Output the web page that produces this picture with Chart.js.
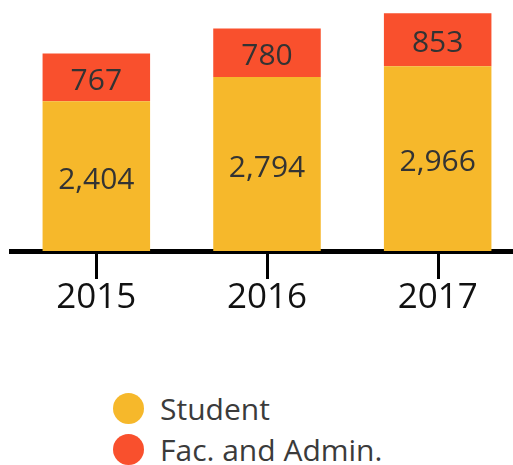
<!DOCTYPE html>
<html>
<head>
<meta charset="utf-8">
<script src="https://cdn.jsdelivr.net/npm/chart.js@4/dist/chart.umd.min.js"></script>
<style>
  html, body { margin: 0; padding: 0; background: #fff; overflow: hidden; }
  body { width: 513px; height: 465px; position: relative; font-family: "Open Sans", sans-serif; }
  #chart-wrap { position: absolute; left: 0; top: 0; width: 523px; height: 338px; }
  #legend { position: absolute; left: 113px; top: 388px; }
  .item { display: flex; align-items: center; height: 41px; font-size: 30px; color: #3b3b3b; }
  .dot { width: 31px; height: 31px; border-radius: 50%; margin-right: 16px; }
</style>
</head>
<body>
<div id="chart-wrap"><canvas id="chart"></canvas></div>
<div id="legend"></div>
<script>
// dados
const years = ['2015', '2016', '2017'];
const students = [2404, 2794, 2966];
const facAdmin = [767, 780, 853];
const seriesNames = ['Student', 'Fac. and Admin.'];
const seriesColors = ['#F6B82B', '#F9502D'];

const FONT = '"Open Sans", sans-serif';

// rótulos dentro das barras
const barLabels = {
  id: 'barLabels',
  afterDatasetsDraw(chart) {
    const ctx = chart.ctx;
    ctx.save();
    ctx.font = '30px ' + FONT;
    ctx.fillStyle = '#333';
    ctx.textAlign = 'center';
    ctx.textBaseline = 'middle';
    chart.data.datasets.forEach((ds, i) => {
      chart.getDatasetMeta(i).data.forEach((bar, j) => {
        const mid = (bar.y + bar.base) / 2;
        ctx.fillText(ds.data[j].toLocaleString('en-US'), bar.x, mid + 4);
      });
    });
    ctx.restore();
  }
};

// marcas do eixo x nos centros das categorias
const axisTicks = {
  id: 'axisTicks',
  afterDraw(chart) {
    const ctx = chart.ctx;
    const x = chart.scales.x;
    const y0 = chart.chartArea.bottom;
    ctx.save();
    ctx.strokeStyle = '#000';
    ctx.lineWidth = 3;
    years.forEach((_, i) => {
      const px = Math.round(x.getPixelForValue(i)) + 0.5;
      ctx.beginPath();
      ctx.moveTo(px, y0);
      ctx.lineTo(px, y0 + 28);
      ctx.stroke();
    });
    ctx.restore();
  }
};

const chart = new Chart(document.getElementById('chart'), {
  type: 'bar',
  data: {
    labels: years,
    datasets: [
      { label: seriesNames[0], data: students, backgroundColor: seriesColors[0] },
      { label: seriesNames[1], data: facAdmin, backgroundColor: seriesColors[1] }
    ]
  },
  options: {
    responsive: true,
    maintainAspectRatio: false,
    animation: false,
    layout: { padding: { left: 11, top: 0, right: 0, bottom: 1 } },
    datasets: { bar: { barPercentage: 0.63, categoryPercentage: 1 } },
    scales: {
      x: {
        stacked: true,
        grid: { display: false },
        border: { display: true, color: '#000', width: 5 },
        ticks: { color: '#111', font: { family: FONT, size: 35 }, padding: 18 }
      },
      y: { stacked: true, display: false, min: 0, max: 4030 }
    },
    plugins: { legend: { display: false }, tooltip: { enabled: false } }
  },
  plugins: [barLabels, axisTicks]
});

// legenda em HTML
const legendEl = document.getElementById('legend');
seriesNames.forEach((name, i) => {
  const item = document.createElement('div');
  item.className = 'item';
  item.innerHTML = `<span class="dot" style="background:${seriesColors[i]}"></span><span>${name}</span>`;
  legendEl.appendChild(item);
});
</script>
</body>
</html>
